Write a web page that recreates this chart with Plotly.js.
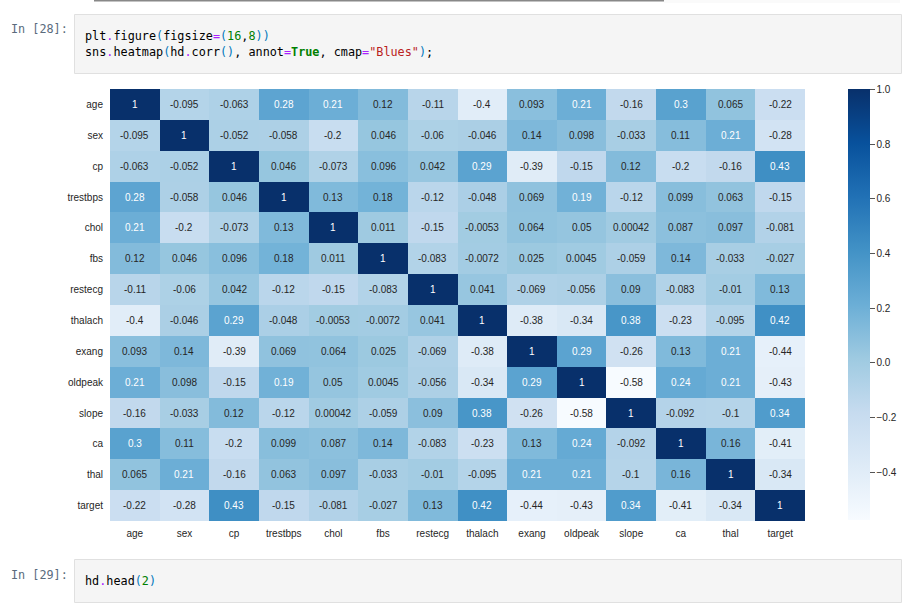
<!DOCTYPE html>
<html>
<head>
<meta charset="utf-8">
<script src="https://cdn.plot.ly/plotly-3.0.1.min.js"></script>
<style>html,body{margin:0;padding:0;background:#fff;overflow:hidden}#chart{width:914px;height:613px}</style>
</head>
<body>
<div id="chart"></div>
<script>
const names = ["age","sex","cp","trestbps","chol","fbs","restecg","thalach","exang","oldpeak","slope","ca","thal","target"];

const age      = ["1","-0.095","-0.063","0.28","0.21","0.12","-0.11","-0.4","0.093","0.21","-0.16","0.3","0.065","-0.22"];
const sex      = ["-0.095","1","-0.052","-0.058","-0.2","0.046","-0.06","-0.046","0.14","0.098","-0.033","0.11","0.21","-0.28"];
const cp       = ["-0.063","-0.052","1","0.046","-0.073","0.096","0.042","0.29","-0.39","-0.15","0.12","-0.2","-0.16","0.43"];
const trestbps = ["0.28","-0.058","0.046","1","0.13","0.18","-0.12","-0.048","0.069","0.19","-0.12","0.099","0.063","-0.15"];
const chol     = ["0.21","-0.2","-0.073","0.13","1","0.011","-0.15","-0.0053","0.064","0.05","0.00042","0.087","0.097","-0.081"];
const fbs      = ["0.12","0.046","0.096","0.18","0.011","1","-0.083","-0.0072","0.025","0.0045","-0.059","0.14","-0.033","-0.027"];
const restecg  = ["-0.11","-0.06","0.042","-0.12","-0.15","-0.083","1","0.041","-0.069","-0.056","0.09","-0.083","-0.01","0.13"];
const thalach  = ["-0.4","-0.046","0.29","-0.048","-0.0053","-0.0072","0.041","1","-0.38","-0.34","0.38","-0.23","-0.095","0.42"];
const exang    = ["0.093","0.14","-0.39","0.069","0.064","0.025","-0.069","-0.38","1","0.29","-0.26","0.13","0.21","-0.44"];
const oldpeak  = ["0.21","0.098","-0.15","0.19","0.05","0.0045","-0.056","-0.34","0.29","1","-0.58","0.24","0.21","-0.43"];
const slope    = ["-0.16","-0.033","0.12","-0.12","0.00042","-0.059","0.09","0.38","-0.26","-0.58","1","-0.092","-0.1","0.34"];
const ca       = ["0.3","0.11","-0.2","0.099","0.087","0.14","-0.083","-0.23","0.13","0.24","-0.092","1","0.16","-0.41"];
const thal     = ["0.065","0.21","-0.16","0.063","0.097","-0.033","-0.01","-0.095","0.21","0.21","-0.1","0.16","1","-0.34"];
const target   = ["-0.22","-0.28","0.43","-0.15","-0.081","-0.027","0.13","0.42","-0.44","-0.43","0.34","-0.41","-0.34","1"];

const labels = [age,sex,cp,trestbps,chol,fbs,restecg,thalach,exang,oldpeak,slope,ca,thal,target];
const z = labels.map(r => r.map(Number));

const blues = [[0,"#f7fbff"],[0.125,"#deebf7"],[0.25,"#c6dbef"],[0.375,"#9ecae1"],[0.5,"#6baed6"],
               [0.625,"#4292c6"],[0.75,"#2171b5"],[0.875,"#08519c"],[1,"#08306b"]];

const W = 914, H = 613;
const px = v => v / W, py = v => 1 - v / H;
const SANS = "Liberation Sans, Arial, sans-serif";
const MONO = "DejaVu Sans Mono, monospace";

const annotations = [];
labels.forEach((row, i) => row.forEach((s, j) => {
  annotations.push({
    x: names[j], y: names[i], xref: "x", yref: "y", text: s, showarrow: false,
    font: {family: SANS, size: 10, color: Number(s) >= 0.185 ? "#ffffff" : "#262626"}
  });
}));

const c = (col, t) => `<span style="color:${col}">${t}</span>`;
const OP = "#AA22FF", NUM = "#008000", STR = "#BA2121", PAR = "#0077BB", BLK = "#000000";
const codeLines = [
  [36, c(BLK,"plt")+c(OP,".")+c(BLK,"figure")+c(PAR,"(")+c(BLK,"figsize")+c(OP,"=")+c(PAR,"(")+c(NUM,"16")+c(BLK,",")+c(NUM,"8")+c(PAR,"))")],
  [52, c(BLK,"sns")+c(OP,".")+c(BLK,"heatmap")+c(PAR,"(")+c(BLK,"hd")+c(OP,".")+c(BLK,"corr")+c(PAR,"()")+c(BLK,", annot")+c(OP,"=")+"<b>"+c(NUM,"True")+"</b>"+c(BLK,", cmap")+c(OP,"=")+c(STR,"\"Blues\"")+c(PAR,")")+c(BLK,";")],
  [581, c(BLK,"hd")+c(OP,".")+c(BLK,"head")+c(PAR,"(")+c(NUM,"2")+c(PAR,")")]
];
codeLines.forEach(([y, t]) => annotations.push({
  x: px(83), y: py(y), xref: "paper", yref: "paper", xanchor: "left", yanchor: "middle",
  text: t, showarrow: false, align: "left", font: {family: MONO, size: 11.8, color: BLK}
}));
[[29,"In [28]:"],[574.5,"In [29]:"]].forEach(([y, t]) => annotations.push({
  x: px(9), y: py(y), xref: "paper", yref: "paper", xanchor: "left", yanchor: "middle",
  text: t, showarrow: false, font: {family: MONO, size: 11.8, color: "#5a6b7d"}
}));

const box = (x0, y0, x1, y1, fill, line) => ({
  type: "rect", xref: "paper", yref: "paper", layer: "below",
  x0: px(x0), x1: px(x1), y0: py(y0), y1: py(y1),
  fillcolor: fill, line: line ? {color: line, width: 1} : {width: 0}
});
const shapes = [
  box(74.5, 14.5, 901.5, 73.5, "#f5f5f5", "#e0e0e0"),
  box(74.5, 559.5, 901.5, 602.5, "#f5f5f5", "#e0e0e0"),
  box(664, 0, 900, 3, "#fafafa"),
  box(94, 0, 664, 1.5, "#888888")
];

const trace = {
  type: "heatmap", x: names, y: names, z: z,
  colorscale: blues, zmin: -0.575, zmax: 1, showscale: true, hoverongaps: false,
  colorbar: {
    x: px(848), xref: "paper", xanchor: "left", xpad: 0,
    y: py(89.3), yref: "paper", yanchor: "top", ypad: 0,
    lenmode: "pixels", len: 431.4, thicknessmode: "pixels", thickness: 22,
    outlinewidth: 0, ticks: "outside", ticklen: 5, tickwidth: 1, tickcolor: "#555555",
    tick0: 0, dtick: 0.2, tickformat: ".1f",
    tickfont: {family: SANS, size: 10, color: "#262626"}
  }
};

const axisBase = {
  type: "category", showgrid: false, zeroline: false, showline: false,
  ticks: "outside", tickcolor: "rgba(0,0,0,0)",
  tickfont: {family: SANS, size: 10, color: "#262626"}, tickangle: 0, automargin: false
};

const layout = {
  width: W, height: H, margin: {l: 0, r: 0, t: 0, b: 0},
  paper_bgcolor: "#ffffff", plot_bgcolor: "#ffffff", showlegend: false,
  xaxis: Object.assign({}, axisBase, {ticklen: 3, domain: [px(110), px(805)]}),
  yaxis: Object.assign({}, axisBase, {ticklen: 4, domain: [py(521), py(89)], autorange: "reversed"}),
  annotations, shapes
};

Plotly.newPlot("chart", [trace], layout, {displayModeBar: false, staticPlot: true});
</script>
</body>
</html>
